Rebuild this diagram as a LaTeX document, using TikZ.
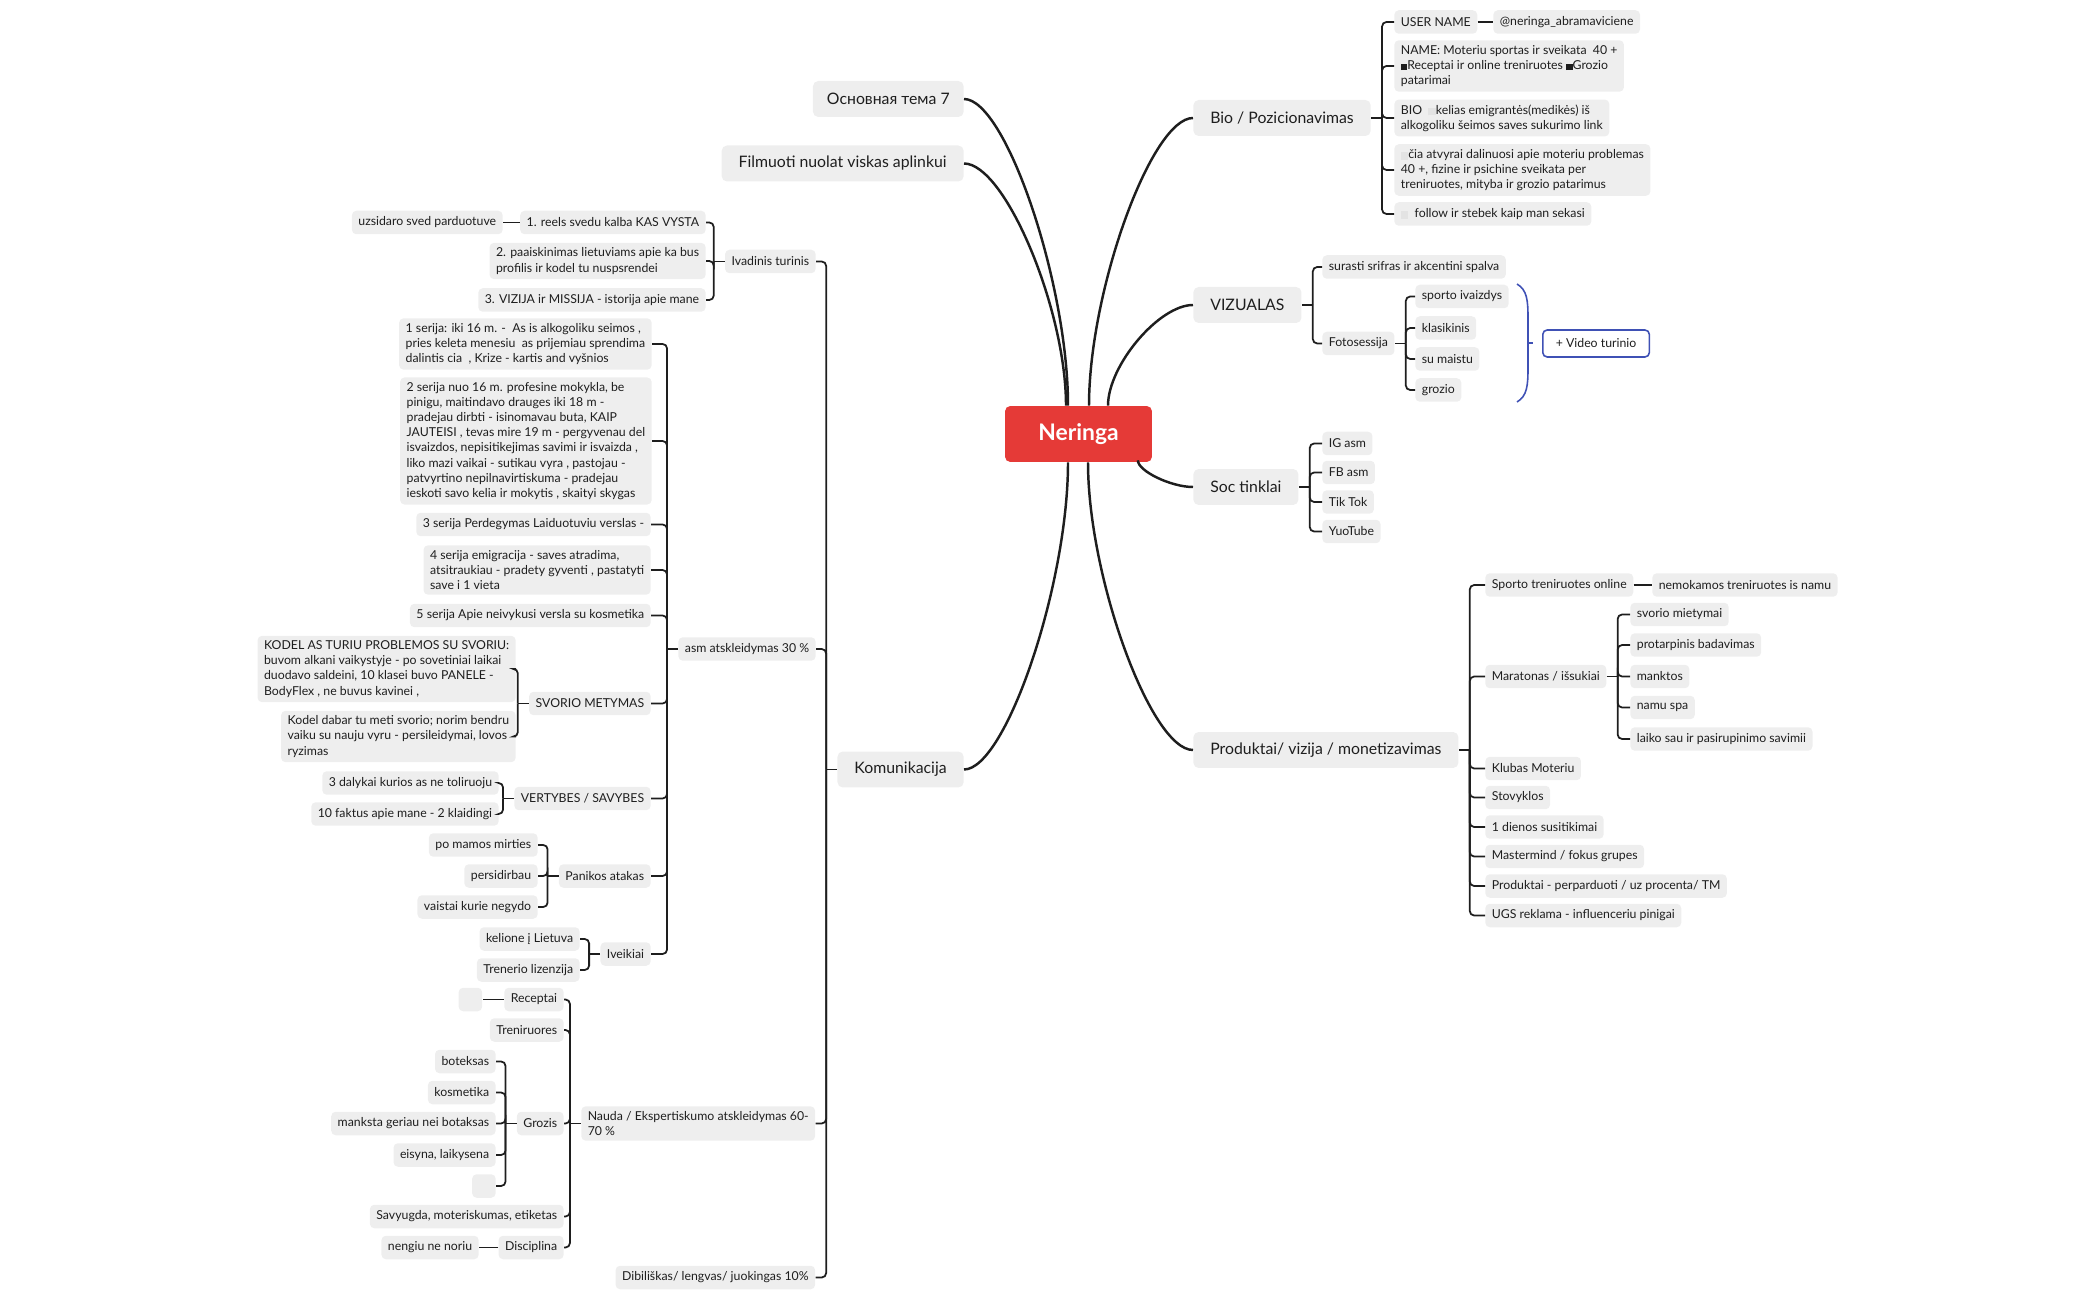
\documentclass[tikz,border=0pt]{standalone}
\usepackage{fontspec}
\setmainfont{Lato}
\usepackage{tikz}
\usetikzlibrary{calc}
\definecolor{rootred}{HTML}{E53A37}
\definecolor{boxgray}{HTML}{EEEEEE}
\definecolor{inkcolor}{HTML}{1E1E1E}
\definecolor{bracecolor}{HTML}{3F51B5}
\newcommand\emo{\textcolor{gray!22}{\rule[-0.2ex]{0.15cm}{0.15cm}}}
\newcommand\blk{\rule[-0.1ex]{0.13cm}{0.13cm}}
\tikzset{
  mm root/.style={fill=rootred,text=white,font=\fontsize{13}{15}\selectfont\bfseries,rounded corners=3pt,minimum width=2.94cm,minimum height=1.12cm},
  mm main/.style={fill=boxgray,text=inkcolor,font=\fontsize{9}{11}\selectfont,rounded corners=3pt,minimum height=0.72cm,inner xsep=0.34cm},
  mm leaf/.style={fill=boxgray,text=inkcolor,font=\fontsize{7}{8.6}\selectfont,rounded corners=2.5pt,minimum height=0.47cm,inner xsep=0.13cm,inner ysep=0.1cm,align=left},
  mm note/.style={mm leaf,fill=white,draw=bracecolor,line width=0.9pt,inner xsep=0.26cm,minimum height=0.54cm},
  mm trunk/.style={draw=inkcolor,line width=1.4pt},
  mm branch/.style={draw=inkcolor,line width=1pt,rounded corners=2.5pt},
  mm brace/.style={draw=bracecolor,line width=0.9pt}
}
\newcommand\trunk[2]{\draw[mm trunk] (#1) .. controls ($(#1)!.4!(#1 -| #2)$) and ($(#2)!.4!(#2 |- #1)$) .. (#2);}
\newcommand\forkL[2]{\draw[mm branch] (#1.west) -- ++(-11,0);
  \foreach \c in {#2} {\draw[mm branch] (#1.west) ++(-11,0) |- (\c.east);}}
\newcommand\forkR[2]{\draw[mm branch] (#1.east) -- ++(11,0);
  \foreach \c in {#2} {\draw[mm branch] (#1.east) ++(11,0) |- (\c.west);}}
\begin{document}
\begin{tikzpicture}[x=0.02cm,y=-0.02cm]
  \useasboundingbox (0,0) rectangle (2100,1300);
  % centre
  \node[mm root] (root) at (1078.5,434) {Neringa};
  \coordinate (r1) at ([xshift=-0.25cm]root.north);
  \coordinate (r2) at ([xshift=-0.21cm]root.north);
  \coordinate (r3) at ([xshift=0.21cm]root.north);
  \coordinate (r4) at ([xshift=0.59cm]root.north);
  \coordinate (r5) at ([xshift=-0.29cm,yshift=0.04cm]root.south east);
  \coordinate (r6) at ([xshift=-0.21cm]root.south);
  \coordinate (r7) at ([xshift=0.19cm]root.south);
  % main topics
  \node[mm main,anchor=east,inner xsep=0.28cm] (osn) at (964,99) {Основная тема 7};
  \node[mm main,anchor=east] (film) at (964,163.5) {Filmuoti nuolat viskas aplinkui};
  \node[mm main,anchor=east] (kom) at (964,769.5) {Komunikacija};
  \node[mm main,anchor=west] (bioz) at (1193,118) {Bio / Pozicionavimas};
  \node[mm main,anchor=west] (viz) at (1193,305) {VIZUALAS};
  \node[mm main,anchor=west] (soc) at (1193,487) {Soc tinklai};
  \node[mm main,anchor=west] (prod) at (1193,750) {Produktai/ vizija / monetizavimas};
  \trunk{osn.east}{r2}
  \trunk{film.east}{r1}
  \trunk{bioz.west}{r3}
  \trunk{viz.west}{r4}
  \trunk{soc.west}{r5}
  \trunk{kom.east}{r6}
  \trunk{prod.west}{r7}
  % Bio / Pozicionavimas
  \begin{scope}[every node/.style={mm leaf,anchor=west}]
    \node (usr) at (1394,22) {USER NAME};
    \node (acc) at (1493,22) {@neringa\_abramaviciene};
    \node (nm) at (1394,66) {NAME: Moteriu sportas ir sveikata\ \ 40 +\\ \blk Receptai ir online treniruotes \blk Grozio\\patarimai};
    \node (biot) at (1394,118) {BIO \ \emo kelias emigrantės(medikės) iš\\alkogoliku šeimos saves sukurimo link};
    \node (cia) at (1394,170) {\emo čia atvyrai dalinuosi apie moteriu problemas\\40 +, fizine ir psichine sveikata per\\treniruotes, mityba ir grozio patarimus};
    \node (fol) at (1394,214) {\emo\ \ follow ir stebek kaip man sekasi};
  \end{scope}
  \forkR{bioz}{usr,nm,biot,cia,fol}
  \draw[mm branch] (usr.east) -- (acc.west);
  % VIZUALAS
  \begin{scope}[every node/.style={mm leaf,anchor=west}]
    \node (sur) at (1322,267) {surasti srifras ir akcentini spalva};
    \node (foto) at (1322,343.5) {Fotosessija};
    \node (f1) at (1415,296.5) {sporto ivaizdys};
    \node (f2) at (1415,328) {klasikinis};
    \node (f3) at (1415,359) {su maistu};
    \node (f4) at (1415,390) {grozio};
  \end{scope}
  \forkR{viz}{sur,foto}
  \forkR{foto}{f1,f2,f3,f4}
  \node[mm note,anchor=west] (video) at (1542,343.5) {+ Video turinio};
  \draw[mm brace] (1517,284) .. controls (1527,290) and (1528,300) .. (1528,318) -- (1528,368)
    .. controls (1528,386) and (1527,396) .. (1517,402);
  \draw[mm brace] (1528,343) -- (1533,343);
  % Soc tinklai
  \begin{scope}[every node/.style={mm leaf,anchor=west}]
    \node (s1) at (1322,443.5) {IG asm};
    \node (s2) at (1322,472.5) {FB asm};
    \node (s3) at (1322,502) {Tik Tok};
    \node (s4) at (1322,531.5) {YuoTube};
  \end{scope}
  \forkR{soc}{s1,s2,s3,s4}
  % Produktai
  \begin{scope}[every node/.style={mm leaf,anchor=west}]
    \node (p1) at (1485,585) {Sporto treniruotes online};
    \node (p1a) at (1652,585) {nemokamos treniruotes is namu};
    \node (p2) at (1485,676.5) {Maratonas / išsukiai};
    \node (m1) at (1630,614.5) {svorio mietymai};
    \node (m2) at (1630,645) {protarpinis badavimas};
    \node (m3) at (1630,676.5) {manktos};
    \node (m4) at (1630,707.5) {namu spa};
    \node (m5) at (1630,739) {laiko sau ir pasirupinimo savimii};
    \node (p3) at (1485,768.5) {Klubas Moteriu};
    \node (p4) at (1485,797.5) {Stovyklos};
    \node (p5) at (1485,827) {1 dienos susitikimai};
    \node (p6) at (1485,856.5) {Mastermind / fokus grupes};
    \node (p7) at (1485,886) {Produktai - perparduoti / uz procenta/ TM};
    \node (p8) at (1485,915.5) {UGS reklama - influenceriu pinigai};
  \end{scope}
  \forkR{prod}{p1,p2,p3,p4,p5,p6,p7,p8}
  \draw[mm branch] (p1.east) -- (p1a.west);
  \forkR{p2}{m1,m2,m3,m4,m5}
  % Komunikacija
  \begin{scope}[every node/.style={mm leaf,anchor=east}]
    \node (ivad) at (816,261.5) {Ivadinis turinis};
    \node (i1) at (706,222.5) {1. reels svedu kalba KAS VYSTA};
    \node (i1a) at (503,222.5) {uzsidaro sved parduotuve};
    \node (i2) at (706,261) {2. paaiskinimas lietuviams apie ka bus\\profilis ir kodel tu nuspsrendei};
    \node (i3) at (706,300) {3. VIZIJA ir MISSIJA - istorija apie mane};
    \node (asm) at (816,649) {asm atskleidymas 30 \%};
    \node (a1) at (652,344) {1 serija: iki 16 m. -\ \ As is alkogoliku seimos ,\\pries keleta menesiu\ \ as prijemiau sprendima\\dalintis cia\ \ , Krize - kartis and vyšnios};
    \node (a2) at (652,441) {2 serija nuo 16 m. profesine mokykla, be\\pinigu, maitindavo drauges iki 18 m -\\pradejau dirbti - isinomavau buta, KAIP\\JAUTEISI , tevas mire 19 m - pergyvenau del\\isvaizdos, nepisitikejimas savimi ir isvaizda ,\\liko mazi vaikai - sutikau vyra , pastojau -\\patvyrtino nepilnavirtiskuma - pradejau\\ieskoti savo kelia ir mokytis , skaityi skygas};
    \node (a3) at (651,524.5) {3 serija Perdegymas Laiduotuviu verslas -};
    \node (a4) at (651,570) {4 serija emigracija - saves atradima,\\atsitraukiau - pradety gyventi , pastatyti\\save i 1 vieta};
    \node (a5) at (651,615.5) {5 serija Apie neivykusi versla su kosmetika};
    \node (a6) at (651,703.5) {SVORIO METYMAS};
    \node (a6a) at (516,669) {KODEL AS TURIU PROBLEMOS SU SVORIU:\\buvom alkani vaikystyje - po sovetiniai laikai\\duodavo saldeini, 10 klasei buvo PANELE -\\BodyFlex , ne buvus kavinei ,};
    \node (a6b) at (516,736.5) {Kodel dabar tu meti svorio; norim bendru\\vaiku su nauju vyru - persileidymai, lovos\\ryzimas};
    \node (a7) at (651,798.5) {VERTYBES / SAVYBES};
    \node (a7a) at (499,783) {3 dalykai kurios as ne toliruoju};
    \node (a7b) at (499,814) {10 faktus apie mane - 2 klaidingi};
    \node (a8) at (651,876) {Panikos atakas};
    \node (a8a) at (538,845) {po mamos mirties};
    \node (a8b) at (538,876) {persidirbau};
    \node (a8c) at (538,907) {vaistai kurie negydo};
    \node (a9) at (651,954) {Iveikiai};
    \node (a9a) at (580,939) {kelione į Lietuva};
    \node (a9b) at (580,970) {Trenerio lizenzija};
    \node (nau) at (815.5,1123.5) {Nauda / Ekspertiskumo atskleidymas 60-\\70 \%};
    \node (n1) at (564,999.5) {Receptai};
    \node[minimum width=0.47cm] (n1a) at (482.5,999.5) {};
    \node (n2) at (564,1030) {Treniruores};
    \node (n3) at (564,1123.5) {Grozis};
    \node (g1) at (496,1061.5) {boteksas};
    \node (g2) at (496,1092.5) {kosmetika};
    \node (g3) at (496,1123.5) {manksta geriau nei botaksas};
    \node (g4) at (496,1155) {eisyna, laikysena};
    \node[minimum width=0.47cm] (g5) at (496,1186) {};
    \node (n4) at (564,1216.5) {Savyugda, moteriskumas, etiketas};
    \node (n5) at (564,1247.5) {Disciplina};
    \node (n5a) at (479,1247.5) {nengiu ne noriu};
    \node (dib) at (815.5,1277.5) {Dibiliškas/ lengvas/ juokingas 10\%};
  \end{scope}
  \forkL{kom}{ivad,asm,nau,dib}
  \forkL{ivad}{i1,i2,i3}
  \draw[mm branch] (i1.west) -- (i1a.east);
  \forkL{asm}{a1,a2,a3,a4,a5,a6,a7,a8,a9}
  \forkL{a6}{a6a,a6b}
  \forkL{a7}{a7a,a7b}
  \forkL{a8}{a8a,a8b,a8c}
  \forkL{a9}{a9a,a9b}
  \forkL{nau}{n1,n2,n3,n4,n5}
  \draw[mm branch] (n1.west) -- (n1a.east);
  \forkL{n3}{g1,g2,g3,g4,g5}
  \draw[mm branch] (n5.west) -- (n5a.east);
\end{tikzpicture}
\end{document}
